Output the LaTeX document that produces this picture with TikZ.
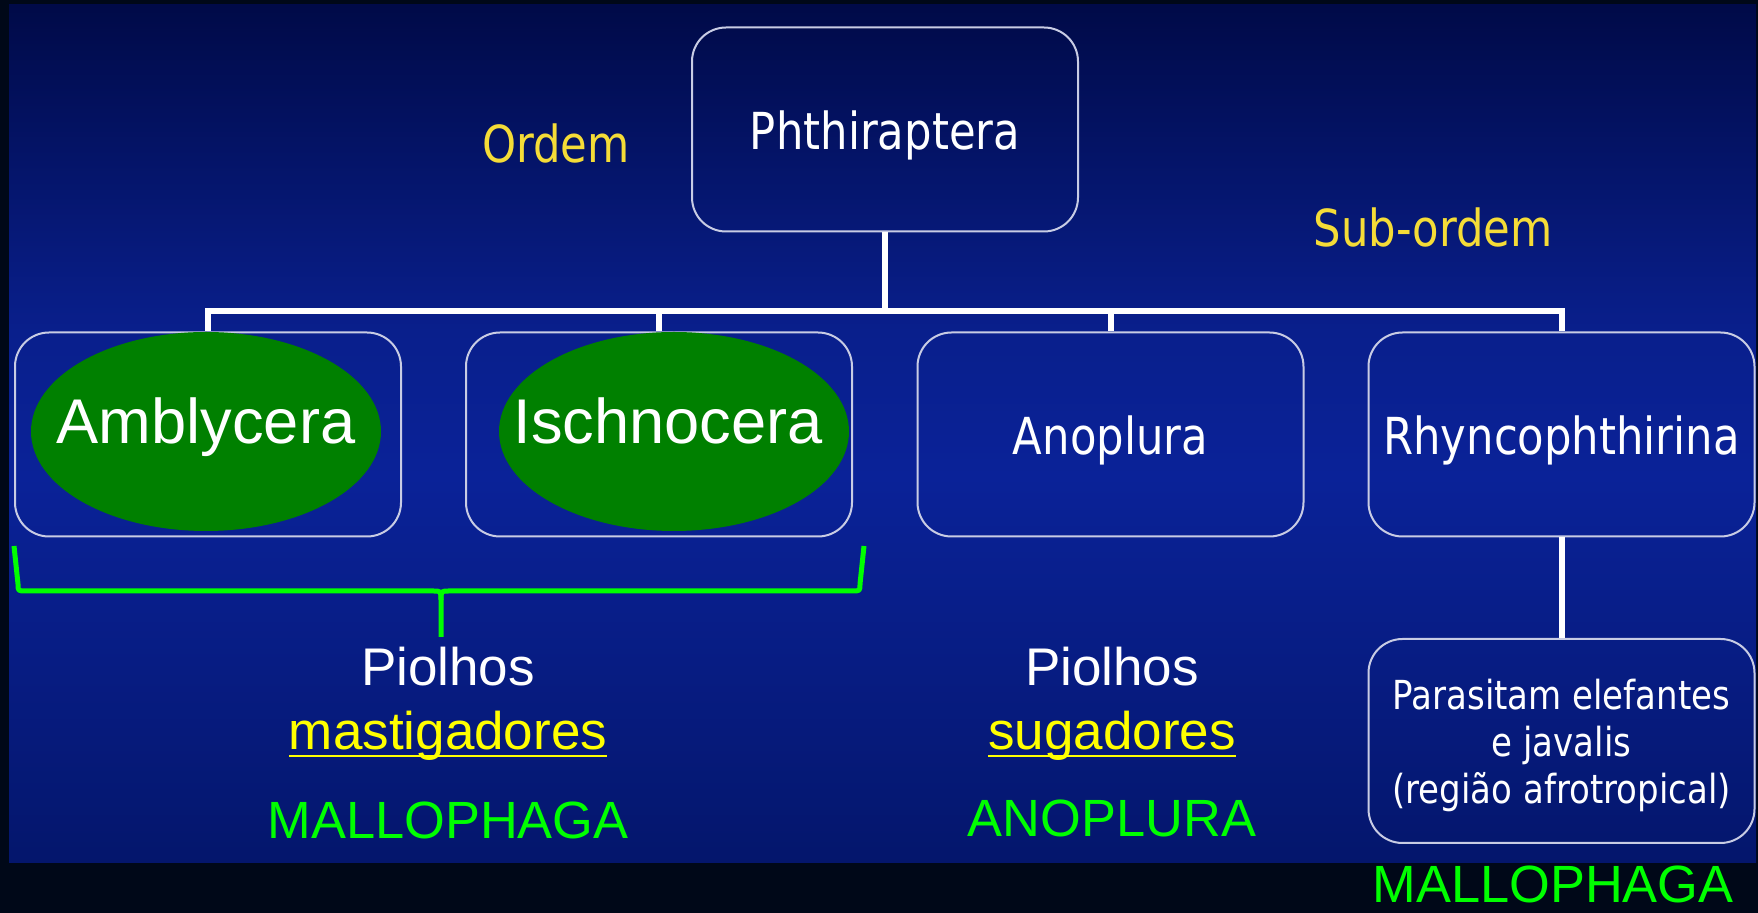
\documentclass[tikz,border=0pt]{standalone}
\usepackage{fontspec}
\setmainfont{Liberation Sans}
\newfontfamily\tahomalike{DejaVu Sans}[FakeStretch=0.85]
\usetikzlibrary{shapes.geometric}
\definecolor{bgdark}{RGB}{0,8,24}
\definecolor{bgtop}{RGB}{0,10,72}
\definecolor{bgmid}{RGB}{10,34,152}
\definecolor{bgmidb}{RGB}{9,31,140}
\definecolor{bgbot}{RGB}{4,22,108}
\definecolor{boxline}{RGB}{200,204,228}
\definecolor{ellgreen}{RGB}{0,128,0}
\definecolor{rankyellow}{RGB}{245,220,55}
\definecolor{termyellow}{RGB}{255,255,0}
\definecolor{namegreen}{RGB}{0,255,0}
\pgfdeclareverticalshading{slideback}{100bp}{color(0bp)=(bgbot); color(25bp)=(bgbot);
  color(47.5bp)=(bgmid); color(56bp)=(bgmidb); color(75bp)=(bgtop); color(100bp)=(bgtop)}
\newsavebox{\ulbox}
\newcommand{\underlined}[1]{\sbox{\ulbox}{#1}%
  \rlap{\vrule height -2.5pt depth 3.5pt width \wd\ulbox}\usebox{\ulbox}}

\begin{document}
\begin{tikzpicture}[x=0.5pt, y=-0.5pt,
  boxbase/.style={draw=boxline, line width=1pt, rounded corners=17pt,
    minimum width=193pt, minimum height=102pt, inner sep=0pt, text=white},
  taxbox/.style={boxbase, font=\tahomalike\fontsize{25.5}{30}\selectfont,
    text height=20pt, text depth=0pt},
  ellnode/.style={ellipse, fill=ellgreen, minimum width=175pt, minimum height=99.5pt,
    inner sep=0pt, text=white, font=\fontsize{31.6}{36}\selectfont,
    text height=22pt, text depth=10pt},
  conn/.style={draw=white, line width=3pt},
  brace/.style={draw=namegreen, line width=2.5pt, line join=round},
  rank/.style={anchor=base, text=rankyellow, font=\tahomalike\fontsize{25.5}{30}\selectfont},
  commonname/.style={anchor=base, text=white, font=\fontsize{26.5}{30}\selectfont},
  term/.style={anchor=base, text=termyellow, font=\fontsize{26.5}{30}\selectfont},
  group/.style={anchor=base, text=namegreen, font=\fontsize{26.2}{30}\selectfont}]

  % Background
  \useasboundingbox (0,0) rectangle (1758,913);
  \fill[bgdark] (0,0) rectangle (1758,913);
  \shade[shading=slideback] (9,5) rectangle (1756,863);

  % Boxes
  \node[taxbox] (phthBox) at (885,129.5) {Phthiraptera};
  \node[taxbox] (amblyBox) at (208,434.5) {};
  \node[taxbox] (ischBox) at (659,434.5) {};
  \node[taxbox] (anopBox) at (1110.5,434.5) {Anoplura};
  \node[taxbox] (rhynBox) at (1561.5,434.5) {Rhyncophthirina};
  \node[boxbase, font=\tahomalike\fontsize{20}{23.5}\selectfont, align=center]
    (parasBox) at (1561.5,741)
    {\rule{0pt}{19.7pt}Parasitam elefantes\\ e javalis\\ (região afrotropical)};

  % Connectors
  \coordinate (bus) at (885,311);
  \draw[conn] (phthBox.south) -- (bus);
  \draw[conn] (amblyBox.north) |- (bus);
  \draw[conn] (ischBox.north) |- (bus);
  \draw[conn] (anopBox.north) |- (bus);
  \draw[conn] (rhynBox.north) |- (bus);
  \draw[conn] (rhynBox.south) -- (parasBox.north);

  % Green ellipses
  \node[ellnode] (amblyEll) at (206,431.5) {\makebox[0pt]{Amblycera}};
  \node[ellnode] (ischEll) at (674,431.5) {\makebox[0pt]{\hspace{-6pt}Ischnocera}};

  % Brace
  \draw[brace] (14,546) -- (18,584) .. controls (18,591) .. (26,591) -- (433,591)
    .. controls (441,591) .. (441,600) -- (441,637);
  \draw[brace] (864,546) -- (860,584) .. controls (860,591) .. (852,591) -- (449,591)
    .. controls (441,591) .. (441,600);

  % Labels
  \node[rank] (ordem) at (556,163) {Ordem};
  \node[rank] (subordem) at (1433,247) {Sub-ordem};
  \node[commonname] (piolA) at (448,686) {Piolhos};
  \node[term] (mastig) at (448,750) {\underlined{mastigadores}};
  \node[group] (mallA) at (448,839) {MALLOPHAGA};
  \node[commonname] (piolB) at (1112,686) {Piolhos};
  \node[term] (sugad) at (1112,750) {\underlined{sugadores}};
  \node[group] (anopl) at (1112,837) {ANOPLURA};
  \node[group, inner sep=1pt, text depth=0pt] (mallB) at (1553,903) {MALLOPHAGA};
\end{tikzpicture}
\end{document}
